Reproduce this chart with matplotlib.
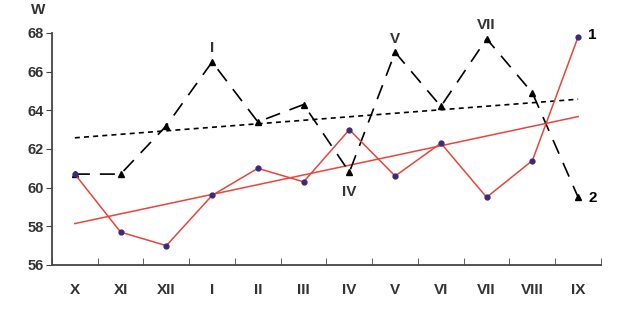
import numpy as np
import matplotlib.pyplot as plt

# months on the x axis
months = ['X', 'XI', 'XII', 'I', 'II', 'III', 'IV', 'V', 'VI', 'VII', 'VIII', 'IX']
# series 1 (red, dots) and series 2 (black dashed, triangles)
w1 = [60.7, 57.7, 57.0, 59.6, 61.0, 60.3, 63.0, 60.6, 62.3, 59.5, 61.4, 67.8]
w2 = [60.7, 60.7, 63.2, 66.5, 63.4, 64.3, 60.8, 67.0, 64.2, 67.7, 64.9, 59.5]
yticks = [56, 58, 60, 62, 64, 66, 68]

x = np.arange(len(months))
txt = '#333333'
red = '#e8453c'

plt.rcParams['font.family'] = ['Liberation Sans', 'DejaVu Sans']

fig = plt.figure(figsize=(6.18, 3.11), dpi=100)
ax = fig.add_axes([0.0841, 0.148, 0.8884, 0.746])

# trend lines from least squares
p1 = np.polyfit(x, w1, 1)
p2 = np.polyfit(x, w2, 1)
ax.plot(x, np.polyval(p1, x), color=red, lw=1.1, zorder=2)
ax.plot(x, np.polyval(p2, x), color='black', lw=1.2, ls=(0, (3, 2.5)), zorder=2)

ax.plot(x, w2, color='black', lw=1.2, ls=(0, (9, 6)), marker='^', ms=4.5,
        mfc='black', mec='black', zorder=3)
ax.plot(x, w1, color=red, lw=1.1, marker='o', ms=3.5, mfc='#3b2a7a', mec='#3b2a7a', zorder=4)

# labels of peaks on series 2
for i, dy in [(3, 0.7), (7, 0.7), (9, 0.7), (6, -1.05)]:
    ax.text(x[i], w2[i] + dy, months[i], ha='center', va='center',
            fontsize=11, fontweight='bold', color=txt)
ax.text(x[-1] + 0.3, w1[-1] + 0.1, '1', ha='center', va='center', fontsize=11, fontweight='bold', color='black')
ax.text(x[-1] + 0.33, w2[-1] - 0.05, '2', ha='center', va='center', fontsize=11, fontweight='bold', color='black')

ax.set_xlim(-0.5, len(months) - 0.5)
ax.set_ylim(56, 68)
ax.set_yticks(yticks)
ax.set_yticklabels([str(v) for v in yticks], fontsize=10.5, fontweight='bold', color=txt)
ax.set_xticks(x)
ax.set_xticklabels(months, fontsize=11, fontweight='bold', color=txt)
ax.set_xticks(np.arange(-0.5, len(months)), minor=True)
ax.tick_params(axis='x', which='major', length=0, pad=13)
ax.tick_params(axis='x', which='minor', direction='in', length=5, color='#444444')
ax.tick_params(axis='y', direction='out', length=4, color='#444444', pad=2)

for s in ['top', 'right']:
    ax.spines[s].set_visible(False)
for s in ['left', 'bottom']:
    ax.spines[s].set_color('#444444')
    ax.spines[s].set_linewidth(1.3)

fig.text(38 / 618, 1 - 10 / 311, 'W', ha='center', va='center', fontsize=11,
         fontweight='bold', color=txt)

fig.savefig('out.png', dpi=100)
